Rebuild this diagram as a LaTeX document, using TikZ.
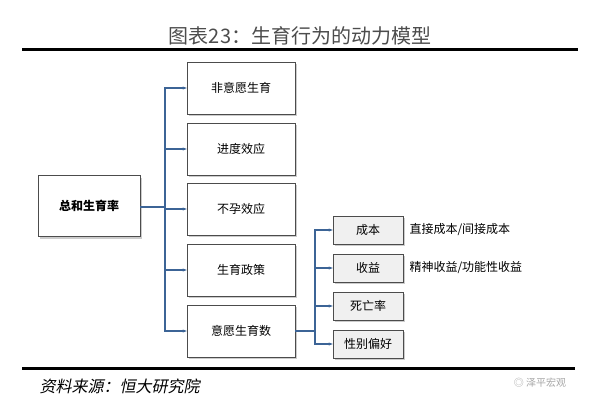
\documentclass[tikz,border=0pt]{standalone}
\usepackage{fontspec}
\setmainfont{Noto Sans CJK SC}
\usetikzlibrary{shadows,arrows.meta}
\definecolor{linkblue}{RGB}{60,100,150}

\begin{document}
\begin{tikzpicture}[x=1pt,y=-1pt,
		bigbox/.style={draw=black!70, fill=white, minimum width=108pt, minimum height=52pt, font=\fontsize{12}{14}\selectfont, drop shadow={shadow xshift=2pt, shadow yshift=-2pt, fill=black!40}},
		smallbox/.style={draw=black!70, fill=black!6, minimum width=70pt, minimum height=28pt, font=\fontsize{12}{14}\selectfont, drop shadow={shadow xshift=2pt, shadow yshift=-2pt, fill=black!40}},
		link/.style={draw=linkblue, line width=1.2pt, -{Stealth[length=4pt]}}]
		\useasboundingbox (0,0) rectangle (600,402);
		\node[text=black!70] (title) at (300,36) {\fontsize{20}{23}\selectfont 图表23：生育行为的动力模型};
		\draw[line width=3pt] (22,49) -- (578,49);
		\draw[line width=3pt] (22,368) -- (575,368);
		\node[anchor=west] (src) at (36,386) {\fontsize{16}{18}\selectfont\addfontfeature{FakeSlant=0.2}资料来源：恒大研究院};
		\node[text=black!35] (wm) at (540,383) {\fontsize{10}{12}\selectfont ◎ 泽平宏观};
		
		\node[bigbox, minimum width=102pt, minimum height=61pt, font=\bfseries\fontsize{12}{14}\selectfont] (tfr) at (89,206) {总和生育率};
		\node[bigbox] (b1) at (241,88) {非意愿生育};
		\node[bigbox] (b2) at (241,149) {进度效应};
		\node[bigbox] (b3) at (241,209) {不孕效应};
		\node[bigbox] (b4) at (241,270) {生育政策};
		\node[bigbox] (b5) at (241,331) {意愿生育数};
		\node[smallbox] (s1) at (368,230) {成本};
		\node[smallbox] (s2) at (368,268) {收益};
		\node[smallbox] (s3) at (368,306) {死亡率};
		\node[smallbox] (s4) at (368,344) {性别偏好};
		\node[anchor=west, font=\fontsize{12}{14}\selectfont] (t1) at (406,230) {直接成本/间接成本};
		\node[anchor=west, font=\fontsize{12}{14}\selectfont] (t2) at (406,268) {精神收益/功能性收益};
		
		\coordinate (trunk) at (165,207);
		\draw[link, -] (tfr.east |- trunk) -- (trunk);
		\foreach \b in {b1,b2,b3,b4,b5}
			\draw[link] (trunk) -- (trunk |- \b) -- (\b.west);
		\coordinate (trunk2) at (315,331);
		\draw[link, -] (b5.east) -- (trunk2);
		\foreach \s in {s1,s2,s3,s4}
			\draw[link] (trunk2) -- (trunk2 |- \s) -- (\s.west);
\end{tikzpicture}
\end{document}
